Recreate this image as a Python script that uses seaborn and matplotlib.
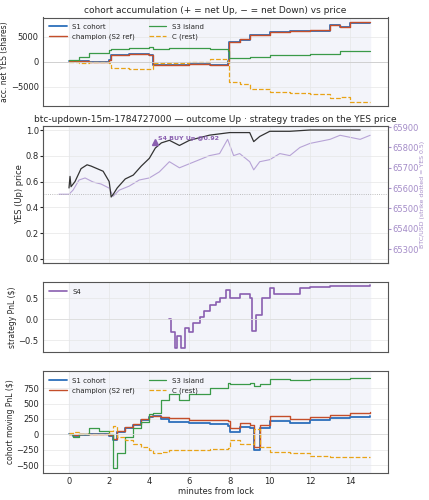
import matplotlib
matplotlib.use('Agg')
import matplotlib.pyplot as plt
import seaborn as sns
import numpy as np

sns.set_style('whitegrid')
plt.rcParams.update({'font.size': 6, 'font.family': ['DejaVu Sans']})

# accumulation (shares)
t_acc = [0, 0.5, 1, 2, 2.1, 3, 4, 4.2, 5, 6, 7, 7.9, 7.95, 8.5, 9, 10, 11, 12, 13, 13.5, 14, 15]
s1_acc = [200, 100, 0, 300, 1400, 1500, 1300, -700, -600, -500, -600, 200, 3900, 4400, 5300, 5900, 6100, 6200, 7300, 6900, 7800, 7800]
champ_acc = [250, 150, 50, 350, 1450, 1550, 1350, -650, -550, -450, -550, 250, 4000, 4500, 5400, 6000, 6200, 6300, 7400, 7000, 7900, 7900]
s3_acc = [300, 1000, 1800, 2300, 2500, 2800, 2900, 2500, 2700, 2800, 2500, 2100, 700, 800, 900, 1300, 1400, 1500, 1500, 2100, 2100, 2100]
c_acc = [-100, -200, 0, -300, -1300, -1400, -1500, -300, -200, -100, 500, 0, -4000, -4500, -5500, -6000, -6200, -6400, -7300, -7000, -8000, -8000]

# YES price and BTC
t_yes = [0, 0.05, 0.1, 0.3, 0.6, 0.9, 1.1, 1.4, 1.7, 2.0, 2.1, 2.2, 2.4, 2.8, 3.2, 3.6, 4.0, 4.3, 4.6, 5.0, 5.5, 6.0, 6.5, 7.0, 7.5, 8.0, 9.0, 9.2, 9.5, 10.0, 11.0, 12.0, 13.0, 14.0, 14.5]
yes = [0.55, 0.64, 0.56, 0.60, 0.70, 0.73, 0.72, 0.70, 0.68, 0.60, 0.48, 0.50, 0.55, 0.62, 0.65, 0.72, 0.78, 0.86, 0.90, 0.92, 0.88, 0.92, 0.94, 0.96, 0.97, 0.98, 0.98, 0.91, 0.95, 0.99, 0.99, 1.0, 1.0, 1.0, 1.0]
t_btc = [-0.5, 0, 0.2, 0.5, 0.8, 1.2, 1.6, 2.0, 2.2, 2.5, 3.0, 3.5, 4.0, 4.5, 5.0, 5.5, 6.0, 6.5, 7.0, 7.5, 7.9, 8.2, 8.5, 9.0, 9.2, 9.5, 10.0, 10.5, 11.0, 11.5, 12.0, 12.5, 13.0, 13.5, 14.0, 14.5, 15.0]
btc = [65570, 65570, 65590, 65640, 65650, 65630, 65620, 65600, 65560, 65590, 65610, 65640, 65650, 65680, 65730, 65700, 65720, 65740, 65760, 65770, 65840, 65760, 65770, 65730, 65690, 65730, 65740, 65770, 65760, 65800, 65820, 65830, 65840, 65860, 65850, 65840, 65860]

# S4 strategy PnL
t_s4 = [5.0, 5.1, 5.3, 5.4, 5.6, 5.8, 6.0, 6.2, 6.5, 6.7, 7.0, 7.3, 7.5, 7.8, 8.0, 8.5, 9.0, 9.1, 9.3, 9.6, 10.0, 10.2, 11.0, 11.5, 12.0, 13.0, 15.0]
s4 = [0.0, -0.3, -0.7, -0.4, -0.7, -0.2, -0.3, -0.1, 0.05, 0.2, 0.35, 0.4, 0.5, 0.7, 0.5, 0.6, 0.5, -0.28, 0.1, 0.5, 0.75, 0.6, 0.6, 0.75, 0.77, 0.8, 0.82]

# cohort moving PnL
t_pnl = [0, 0.2, 0.5, 1.0, 1.5, 2.0, 2.2, 2.4, 2.8, 3.2, 3.6, 4.0, 4.2, 4.6, 5.0, 5.5, 6.0, 7.0, 7.9, 8.0, 8.5, 9.0, 9.2, 9.5, 10.0, 11.0, 12.0, 13.0, 14.0, 15.0]
s1_pnl = [0, -20, -10, 0, 0, -20, -100, 30, 100, 150, 230, 280, 290, 250, 200, 200, 180, 160, 140, 40, 120, 100, -250, 100, 220, 180, 230, 260, 280, 300]
champ_pnl = [0, -10, 0, 10, 0, -10, -80, 50, 120, 170, 250, 300, 300, 280, 260, 260, 240, 230, 220, 100, 180, 150, -200, 150, 300, 250, 280, 320, 350, 370]
s3_pnl = [0, -50, 10, 110, 50, 0, -550, -300, -50, 100, 200, 330, 350, 550, 650, 550, 650, 750, 830, 820, 820, 830, 790, 820, 900, 880, 900, 900, 910, 920]
c_pnl = [20, 30, 10, 0, 0, 50, 130, -50, -100, -150, -200, -250, -300, -280, -260, -260, -250, -240, -230, -100, -150, -150, 80, -200, -280, -300, -350, -370, -370, -370]

blue, red, green, gold, purple = '#2c6fbb', '#c44e2a', '#3a9a48', '#e8a317', '#8a5fb0'
shade = '#f3f4fa'

fig, ax = plt.subplots(4, 1, figsize=(4.29, 5), dpi=100, sharex=True,
                       gridspec_kw={'height_ratios': [95, 146, 74, 108]})
fig.subplots_adjust(left=0.1, right=0.905, top=0.965, bottom=0.055, hspace=0.2)

for i, a in enumerate(ax):
    if i != 1:
        a.axvspan(0, 15, color=shade, zorder=0)
    a.set_facecolor('white')
    for s in a.spines.values():
        s.set_color('#555555')
    a.grid(True, color='#e6e6e6', linewidth=0.5)
    a.tick_params(labelsize=6, length=2, pad=1)

a = ax[0]
a.plot(t_acc, s1_acc, drawstyle='steps-post', color=blue, lw=1.3, label='S1 cohort')
a.plot(t_acc, champ_acc, drawstyle='steps-post', color=red, lw=1.0, label='champion (S2 ref)')
a.plot(t_acc, s3_acc, drawstyle='steps-post', color=green, lw=0.9, label='S3 island')
a.plot(t_acc, c_acc, drawstyle='steps-post', color=gold, lw=0.9, ls='--', label='C (rest)')
a.axhline(0, color='#cccccc', lw=0.6)
a.set_ylim(-8900, 8900)
a.set_ylabel('acc. net YES (shares)', fontsize=5.5, labelpad=1)
a.set_title('cohort accumulation (+ = net Up, − = net Down) vs price', fontsize=6.5, pad=3)
a.legend(ncol=2, fontsize=5, loc='upper left', frameon=False, handlelength=2.5)

a = ax[1]
b = a.twinx()
b.axvspan(0, 15, color=shade, zorder=0)
b.plot(t_btc, btc, color='#b7a3d6', lw=0.8, zorder=2)
b.set_ylim(65233, 65905)
b.set_yticks([65300, 65400, 65500, 65600, 65700, 65800, 65900])
b.tick_params(labelsize=6, colors='#a48cc8', length=2, pad=1)
b.set_ylabel('BTC/USD (strike dotted = YES 0.5)', fontsize=4.5, color='#a48cc8', labelpad=1)
b.grid(False)
a.plot(t_yes, yes, color='#333333', lw=0.9, zorder=3)
a.axhline(0.5, color='#aaaaaa', lw=0.6, ls=':')
a.plot([4.3], [0.905], marker='^', color=purple, ms=5, zorder=4)
a.text(4.45, 0.925, 'S4 BUY Up @0.92', color=purple, fontsize=4.5, fontweight='bold', zorder=4)
a.set_ylim(-0.03, 1.03)
a.set_zorder(b.get_zorder() + 1)
a.patch.set_visible(False)
a.set_ylabel('YES (Up) price', fontsize=6, labelpad=1)
a.set_title('btc-updown-15m-1784727000 — outcome Up · strategy trades on the YES price', fontsize=6.5, pad=3)

a = ax[2]
a.plot(t_s4, s4, drawstyle='steps-post', color=purple, lw=1.2, label='S4')
a.axhline(0, color='#dddddd', lw=0.6)
a.set_ylim(-0.78, 0.88)
a.set_ylabel('strategy PnL ($)', fontsize=5.5, labelpad=1)
a.legend(fontsize=5, loc='upper left', frameon=False, handlelength=2.5)

a = ax[3]
a.plot(t_pnl, s1_pnl, drawstyle='steps-post', color=blue, lw=1.3, label='S1 cohort')
a.plot(t_pnl, champ_pnl, drawstyle='steps-post', color=red, lw=1.0, label='champion (S2 ref)')
a.plot(t_pnl, s3_pnl, drawstyle='steps-post', color=green, lw=0.9, label='S3 island')
a.plot(t_pnl, c_pnl, drawstyle='steps-post', color=gold, lw=0.9, ls='--', label='C (rest)')
a.axhline(0, color='#dddddd', lw=0.6)
a.set_ylim(-620, 1020)
a.set_yticks([-500, -250, 0, 250, 500, 750])
a.set_ylabel('cohort moving PnL ($)', fontsize=5.5, labelpad=1)
a.set_xlabel('minutes from lock', fontsize=6, labelpad=1)
a.legend(ncol=2, fontsize=5, loc='upper left', frameon=False, handlelength=2.5)
a.set_xlim(-1.3, 15.9)
a.set_xticks([0, 2, 4, 6, 8, 10, 12, 14])

fig.savefig('out.png', dpi=100)
